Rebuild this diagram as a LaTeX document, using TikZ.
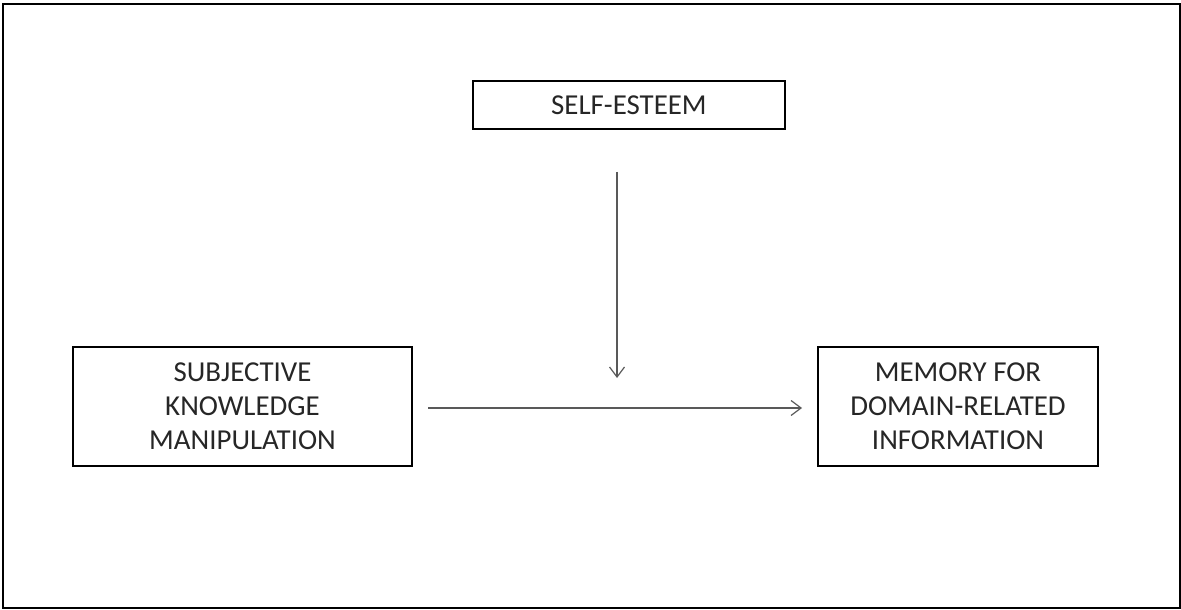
\documentclass[tikz,border=0pt]{standalone}
\usepackage{fontspec}
\setmainfont{Carlito}
\usetikzlibrary{arrows.meta}
\begin{document}
\begin{tikzpicture}[x=1bp,y=-1bp,
  box/.style={draw=black,line width=2bp,inner sep=0pt,align=center,
    font=\fontsize{29}{34}\selectfont,text=black!85},
  conn/.style={draw=black!65,line width=1.2bp,-{Straight Barb[length=10bp,width=15bp,line width=1.2bp]}}]
\useasboundingbox (0,0) rectangle (1181,610);
\draw[line width=2bp] (3,4) rectangle (1179.5,608);
\node[box,minimum width=312bp,minimum height=48bp] (se) at (629,105) {SELF-ESTEEM};
\node[box,minimum width=339bp,minimum height=119bp] (skm) at (242.5,406.5) {SUBJECTIVE\\KNOWLEDGE\\MANIPULATION};
\node[box,minimum width=280bp,minimum height=119bp] (mem) at (958,406.5) {MEMORY FOR\\DOMAIN-RELATED\\INFORMATION};
\coordinate (vs) at (617,172);
\coordinate (ve) at (617,378);
\coordinate (hs) at (428,408);
\coordinate (he) at (802,408);
\draw[conn] (vs) -- (ve);
\draw[conn] (hs) -- (he);
\end{tikzpicture}
\end{document}
